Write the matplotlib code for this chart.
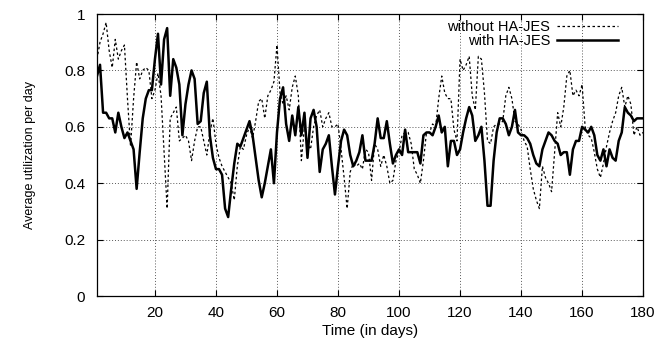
# -*- coding: utf-8 -*-
"""
Average utilization per day, with and without HA-JES.
"""
import matplotlib
matplotlib.use('Agg')
import matplotlib.pyplot as plt
import numpy as np

days = np.arange(1, 181)

without_hajes = [
    0.84, 0.90, 0.93, 0.97, 0.87, 0.81, 0.91, 0.84, 0.87, 0.89,
    0.70, 0.53, 0.70, 0.83, 0.77, 0.80, 0.81, 0.80, 0.70, 0.73,
    0.79, 0.71, 0.51, 0.31, 0.63, 0.65, 0.67, 0.55, 0.56, 0.57,
    0.55, 0.48, 0.55, 0.60, 0.60, 0.55, 0.50, 0.58, 0.63, 0.54,
    0.49, 0.46, 0.44, 0.42, 0.40, 0.34, 0.46, 0.53, 0.52, 0.57,
    0.60, 0.56, 0.62, 0.69, 0.70, 0.63, 0.71, 0.73, 0.76, 0.89,
    0.72, 0.68, 0.71, 0.66, 0.74, 0.78, 0.71, 0.48, 0.60, 0.54,
    0.52, 0.60, 0.64, 0.66, 0.60, 0.63, 0.65, 0.60, 0.60, 0.61,
    0.52, 0.42, 0.31, 0.44, 0.47, 0.46, 0.47, 0.45, 0.52, 0.51,
    0.41, 0.54, 0.52, 0.46, 0.50, 0.46, 0.40, 0.41, 0.48, 0.51,
    0.57, 0.58, 0.58, 0.54, 0.45, 0.43, 0.40, 0.48, 0.58, 0.58,
    0.61, 0.60, 0.70, 0.78, 0.72, 0.70, 0.70, 0.59, 0.55, 0.84,
    0.80, 0.82, 0.85, 0.71, 0.66, 0.85, 0.84, 0.72, 0.55, 0.54,
    0.60, 0.61, 0.61, 0.62, 0.71, 0.74, 0.70, 0.62, 0.61, 0.59,
    0.55, 0.53, 0.45, 0.38, 0.34, 0.31, 0.46, 0.42, 0.40, 0.37,
    0.51, 0.65, 0.60, 0.67, 0.78, 0.80, 0.71, 0.73, 0.71, 0.75,
    0.60, 0.57, 0.56, 0.51, 0.45, 0.42, 0.47, 0.53, 0.58, 0.62,
    0.65, 0.71, 0.74, 0.67, 0.71, 0.68, 0.57, 0.60, 0.57, 0.58,
]

with_hajes = [
    0.78, 0.82, 0.65, 0.65, 0.63, 0.63, 0.58, 0.65, 0.60, 0.56,
    0.58, 0.55, 0.52, 0.38, 0.51, 0.63, 0.70, 0.73, 0.73, 0.84,
    0.93, 0.75, 0.91, 0.95, 0.71, 0.84, 0.81, 0.75, 0.57, 0.68,
    0.75, 0.80, 0.77, 0.61, 0.62, 0.72, 0.76, 0.57, 0.49, 0.45,
    0.45, 0.43, 0.31, 0.28, 0.38, 0.47, 0.54, 0.53, 0.56, 0.59,
    0.62, 0.57, 0.49, 0.41, 0.35, 0.40, 0.46, 0.52, 0.40, 0.58,
    0.70, 0.74, 0.61, 0.55, 0.64, 0.57, 0.67, 0.57, 0.65, 0.49,
    0.63, 0.66, 0.60, 0.44, 0.52, 0.54, 0.57, 0.46, 0.36, 0.46,
    0.55, 0.59, 0.57, 0.50, 0.46, 0.48, 0.51, 0.57, 0.48, 0.48,
    0.48, 0.54, 0.63, 0.56, 0.56, 0.62, 0.54, 0.47, 0.50, 0.52,
    0.50, 0.59, 0.51, 0.51, 0.51, 0.51, 0.47, 0.57, 0.58, 0.58,
    0.57, 0.60, 0.64, 0.58, 0.60, 0.46, 0.55, 0.55, 0.50, 0.52,
    0.58, 0.63, 0.67, 0.64, 0.55, 0.57, 0.60, 0.48, 0.32, 0.32,
    0.48, 0.58, 0.63, 0.63, 0.61, 0.57, 0.60, 0.66, 0.58, 0.57,
    0.57, 0.56, 0.54, 0.50, 0.47, 0.46, 0.52, 0.55, 0.58, 0.57,
    0.55, 0.54, 0.50, 0.51, 0.51, 0.43, 0.52, 0.55, 0.55, 0.60,
    0.59, 0.58, 0.60, 0.57, 0.50, 0.48, 0.52, 0.46, 0.52, 0.49,
    0.48, 0.55, 0.58, 0.67, 0.65, 0.64, 0.62, 0.63, 0.63, 0.63,
]

x_ticks = [20, 40, 60, 80, 100, 120, 140, 160, 180]
y_ticks = [0, 0.2, 0.4, 0.6, 0.8, 1]
y_tick_labels = ['0', '0.2', '0.4', '0.6', '0.8', '1']

plt.rcParams['font.family'] = ['Liberation Sans', 'DejaVu Sans']

fig = plt.figure(figsize=(6.72, 3.42), dpi=100)
ax = fig.add_axes([0.1443, 0.1345, 0.957 - 0.1443, 0.959 - 0.1345])

ax.plot(days, without_hajes, color='black', lw=0.9, linestyle=(0, (2, 2)),
        label='without HA-JES')
ax.plot(days, with_hajes, color='black', lw=1.8, label='with HA-JES')

ax.set_xlim(1, 180)
ax.set_ylim(0, 1)
ax.set_xticks(x_ticks)
ax.set_yticks(y_ticks)
ax.set_yticklabels(y_tick_labels)
ax.tick_params(direction='in', top=True, right=True, length=4,
               labelsize=11, width=0.8)
ax.tick_params(axis='y', pad=8.5)
ax.tick_params(axis='x', pad=7)
ax.grid(True, color='0.35', linestyle=(0, (1, 2)), lw=0.7)
for s in ax.spines.values():
    s.set_linewidth(0.9)

ax.set_xlabel('Time (in days)', fontsize=11, labelpad=3)
ax.set_ylabel('Average utilization per day', fontsize=9,
              family=['Liberation Sans Narrow', 'Liberation Sans'], labelpad=20)

leg = ax.legend(loc='upper right', frameon=False, fontsize=10.5,
                markerfirst=False, handlelength=4.2, handletextpad=0.45,
                borderpad=0, borderaxespad=0, labelspacing=0,
                bbox_to_anchor=(0.954, 0.978))
for t in leg.get_texts():
    t.set_ha('right')

fig.savefig('out.png', dpi=100)
